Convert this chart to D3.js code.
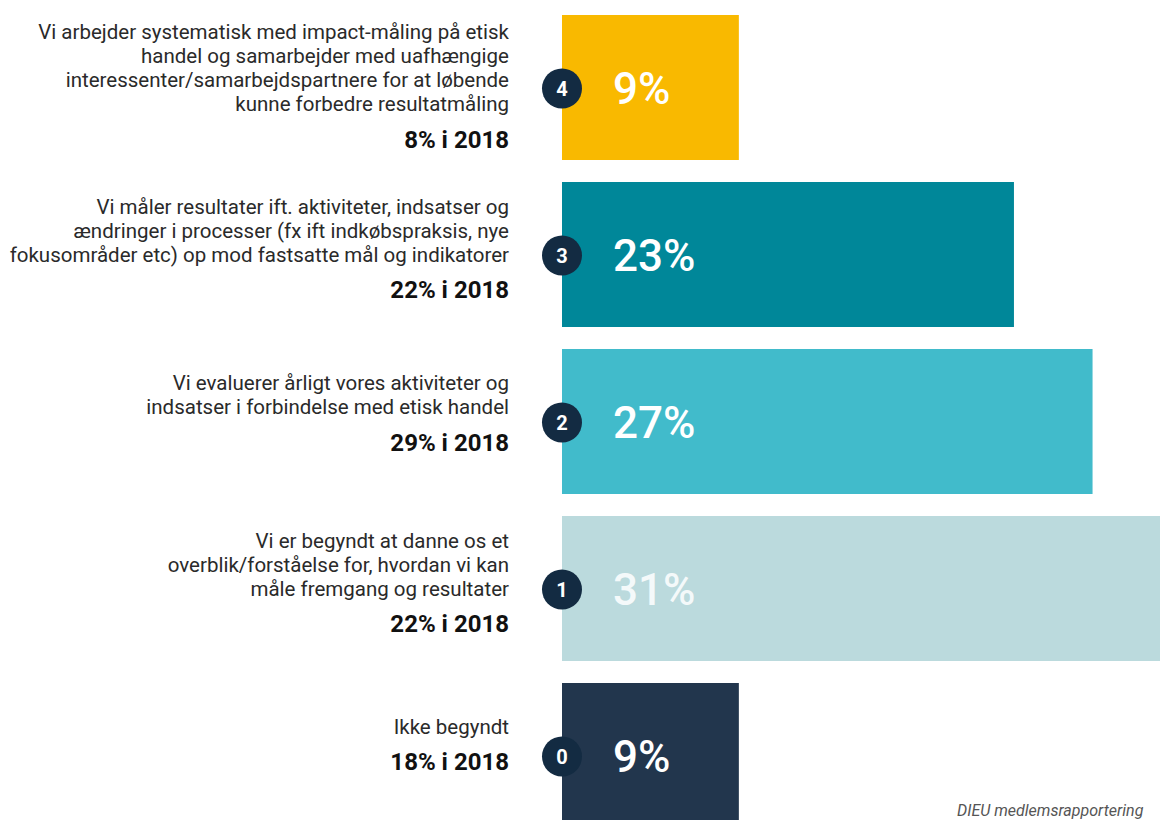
<!DOCTYPE html>
<html>
<head>
<meta charset="utf-8">
<script src="https://cdn.jsdelivr.net/npm/d3@7"></script>
<style>
  body { margin: 0; background: #fff; overflow: hidden; }
  svg { display: block; font-family: Roboto, "Noto Sans", sans-serif; }
</style>
</head>
<body>
<script>
// levels, top to bottom
const levels = [4, 3, 2, 1, 0];
const values = [9, 23, 27, 31, 9];
const prevYear = ["8% i 2018", "22% i 2018", "29% i 2018", "22% i 2018", "18% i 2018"];
const labels = [
    ["Vi arbejder systematisk med impact-måling på etisk", "handel og samarbejder med uafhængige", "interessenter/samarbejdspartnere for at løbende", "kunne forbedre resultatmåling"],
    ["Vi måler resultater ift. aktiviteter, indsatser og", "ændringer i processer (fx ift indkøbspraksis, nye", "fokusområder etc) op mod fastsatte mål og indikatorer"],
    ["Vi evaluerer årligt vores aktiviteter og", "indsatser i forbindelse med etisk handel"],
    ["Vi er begyndt at danne os et", "overblik/forståelse for, hvordan vi kan", "måle fremgang og resultater"],
    ["Ikke begyndt"]
];
const colors = ["#f9b900", "#008799", "#41bbcb", "#bbdadd", "#22364d"];
const valueColors = ["#fff", "#fff", "#fff", "#f4f9fa", "#fff"];

const width = 1160, height = 820;
const barLeft = 562;
const lineHeight = 24;

const svg = d3.select('body').append('svg')
    .attr('width', width)
    .attr('height', height);

// ~19.65 px per percent
const x = d3.scaleLinear()
    .domain([0, 10])
    .range([barLeft, barLeft + 196.5]);

// step 167, bar height 145
const y = d3.scaleBand()
    .domain(levels)
    .range([15, 15 + 167 * 5 - 22])
    .paddingInner(22 / 167)
    .paddingOuter(0);

const rows = svg.selectAll('g.row')
    .data(levels.map((lvl, i) => ({ lvl, value: values[i], prev: prevYear[i], label: labels[i], color: colors[i], vColor: valueColors[i] })))
    .enter()
    .append('g')
    .attr('class', 'row')
    .attr('transform', d => `translate(0,${y(d.lvl)})`);

rows.append('rect')
    .attr('x', x(0))
    .attr('y', 0)
    .attr('width', d => x(d.value) - x(0))
    .attr('height', y.bandwidth())
    .attr('fill', d => d.color);

const mid = y.bandwidth() / 2;

rows.append('circle')
    .attr('cx', barLeft)
    .attr('cy', mid + 1)
    .attr('r', 20)
    .attr('fill', '#132b42');

rows.append('text')
    .attr('x', barLeft)
    .attr('y', mid + 1)
    .attr('dy', '0.36em')
    .attr('text-anchor', 'middle')
    .attr('fill', '#fff')
    .attr('font-size', 20)
    .attr('font-weight', 700)
    .text(d => d.lvl);

rows.append('text')
    .attr('x', 613)
    .attr('y', mid + 1)
    .attr('dy', '0.36em')
    .attr('fill', d => d.vColor)
    .attr('font-size', 44)
    .attr('font-weight', 500)
    .text(d => d.value + '%');

// question text + previous year, right aligned
rows.each(function (d) {
    const g = d3.select(this);
    const n = d.label.length;
    const blockH = (n - 1) * lineHeight + 35;
    // shorter blocks sit a little higher than the bar centre
    const top = mid - 4 - blockH / 2 - (4 - n) * 2.5 + (n === 4 ? 2 : 0);
    g.selectAll('text.q')
        .data(d.label)
        .enter()
        .append('text')
        .attr('class', 'q')
        .attr('x', 509)
        .attr('y', (t, j) => top + j * lineHeight)
        .attr('dy', '0.35em')
        .attr('text-anchor', 'end')
        .attr('fill', '#2a2a2a')
        .attr('font-size', 20.5)
        .text(t => t);
    g.append('text')
        .attr('x', 509)
        .attr('y', top + (n - 1) * lineHeight + 35)
        .attr('dy', '0.36em')
        .attr('text-anchor', 'end')
        .attr('fill', '#111')
        .attr('font-size', 24)
        .attr('font-weight', 700)
        .text(d.prev);
});

svg.append('text')
    .attr('x', 957)
    .attr('y', 816)
    .attr('fill', '#555')
    .attr('font-size', 16)
    .attr('font-style', 'italic')
    .text('DIEU medlemsrapportering');
</script>
</body>
</html>
